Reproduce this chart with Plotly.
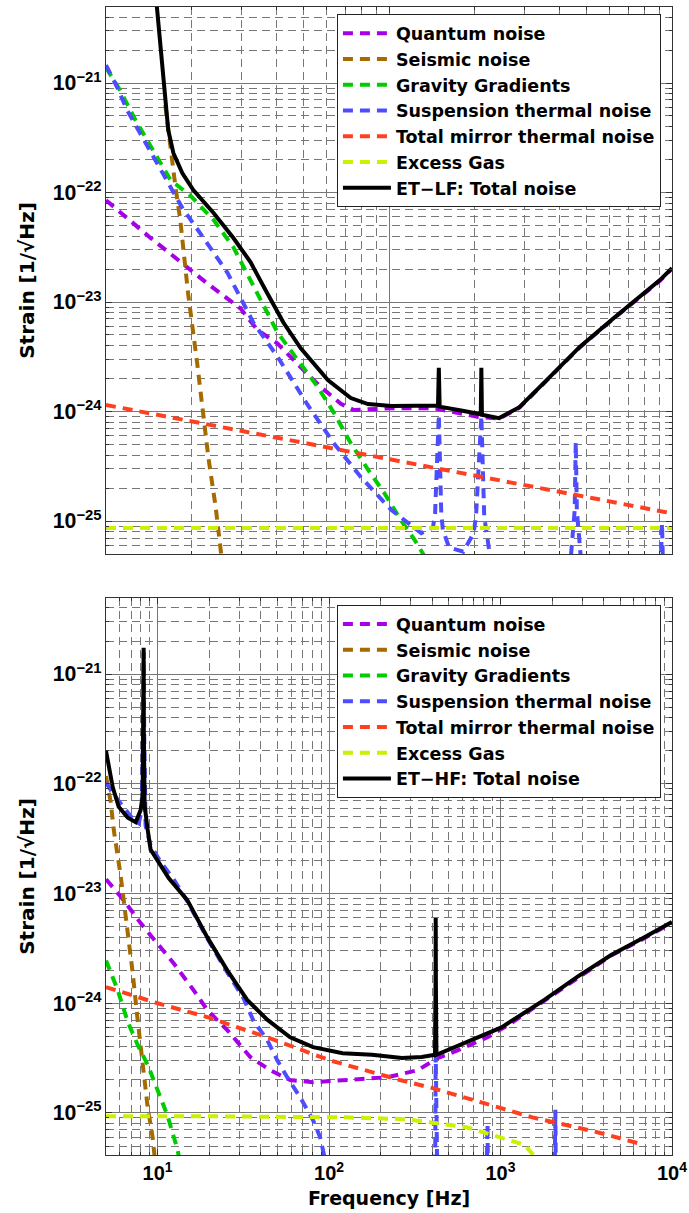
import numpy as np
import plotly.graph_objects as go

# ---------------- ET-LF (top panel) : frequency [Hz] and log10(strain) ----------------
lf_quantum_f = [1.0, 1.43, 2.28, 2.99, 3.43, 4.04, 4.87, 5.74, 6.76, 7.51, 10.2, 14.4, 20.7, 24.5,
                28.9, 36.0, 47.2, 62.3, 90.6, 100]
lf_quantum = [-22.07, -22.41, -22.83, -23.06, -23.256, -23.38, -23.594, -23.776, -23.93, -23.986,
              -23.97, -23.97, -24.05, -24.065, -23.965, -23.72, -23.415, -23.15, -22.805, -22.695]

lf_seismic_f = [1.62, 1.71, 1.76, 1.83, 1.88, 1.95, 2.10, 2.19, 2.30, 2.44, 2.54, 2.62]
lf_seismic = [-21.20, -21.73, -21.95, -22.25, -22.55, -22.92, -23.56, -23.96, -24.42,
              -24.87, -25.30, -25.55]

lf_gravity_f = [1.0, 1.12, 1.27, 1.43, 1.69, 1.99, 2.40, 2.82, 3.43, 4.04, 4.76, 5.60, 6.38, 7.33,
                8.43, 9.60, 11.0, 12.3, 13.2, 14.0]
lf_gravity = [-20.86, -21.064, -21.338, -21.566, -21.886, -22.03, -22.25, -22.50, -22.92, -23.28,
              -23.53, -23.776, -24.01, -24.29, -24.53, -24.74, -24.99, -25.17, -25.30, -25.42]

lf_susp_f = [1.0, 1.094, 1.187, 1.32, 1.49, 1.73, 1.86, 2.15, 2.69, 3.32, 4.04, 5.16, 6.38, 7.96,
             10.2, 13.0, 14.3, 14.55, 15.0, 15.3, 15.5, 16.3, 18.3, 19.9, 20.3, 21.2, 21.7, 22.6,
             23.5, 25.0, 43.0, 44.0, 45.3, 45.7, 46.1, 47.5, 48.5, 90.5, 91.5, 92.2, 92.9, 94.0, 100]
lf_susp = [-20.836, -21.037, -21.247, -21.457, -21.703, -22.00, -22.14, -22.37, -22.735, -23.19,
           -23.50, -23.94, -24.29, -24.60, -24.90, -25.11, -25.06, -24.93, -24.03, -24.93,
           -25.08, -25.24, -25.28, -25.11, -24.96, -24.04, -24.96, -25.27, -25.50, -25.70,
           -25.70, -25.30, -24.90, -24.28, -24.90, -25.30, -25.70, -25.70, -25.40, -25.02,
           -25.40, -25.70, -25.70]

lf_mirror_f = [1.0, 2.0, 5.0, 10.0, 20.0, 50.0, 100.0]
lf_mirror = [-23.94, -24.09, -24.285, -24.435, -24.58, -24.78, -24.93]

lf_gas_f = [1.0, 3.0, 10.0, 30.0, 100.0]
lf_gas = [-25.064, -25.064, -25.064, -25.064, -25.064]

lf_total_f = [1.50, 1.554, 1.58, 1.619, 1.659, 1.73, 1.86, 2.035, 2.40, 2.82, 3.24, 3.66, 4.24,
              4.87, 6.08, 7.33, 8.43, 10.2, 14.4, 14.9, 15.0, 15.1, 18.0, 20.8, 21.1, 21.2, 21.3,
              24.5, 28.9, 36.0, 47.2, 62.3, 90.6, 100]
lf_total = [-20.20, -20.653, -20.854, -21.155, -21.429, -21.639, -21.822, -21.977, -22.187,
            -22.416, -22.635, -22.89, -23.19, -23.42, -23.712, -23.877, -23.932, -23.95, -23.94,
            -23.945, -23.60, -23.955, -23.99, -24.02, -24.025, -23.60, -24.03, -24.06, -23.96,
            -23.715, -23.41, -23.146, -22.80, -22.69]

# ---------------- ET-HF (bottom panel) ----------------
hf_quantum_f = [5.0, 6.34, 7.96, 10.0, 12.4, 16.2, 19.5, 25.5, 34.7, 45.4, 59.3, 80.7, 124, 220,
                329, 430, 562, 840, 1158, 1803, 2805, 4420, 6870, 10000]
hf_quantum = [-22.87, -23.06, -23.27, -23.452, -23.635, -23.88, -24.063, -24.245, -24.49, -24.61,
              -24.70, -24.72, -24.70, -24.674, -24.61, -24.50, -24.43, -24.31, -24.18, -23.975,
              -23.765, -23.565, -23.41, -23.265]

hf_seismic_f = [5.0, 5.33, 5.55, 5.85, 6.09, 6.34, 6.70, 7.16, 7.65, 8.18, 8.75, 9.35, 9.61, 9.90]
hf_seismic = [-21.93, -22.17, -22.42, -22.64, -22.84, -23.06, -23.334, -23.726, -24.154, -24.58,
              -24.947, -25.22, -25.385, -25.6]

hf_gravity_f = [5.0, 5.85, 6.70, 7.65, 8.75, 10.0, 11.4, 13.1, 13.6]
hf_gravity = [-23.61, -23.88, -24.17, -24.38, -24.56, -24.79, -25.02, -25.34, -25.48]

hf_susp_f = [5.0, 5.55, 6.09, 6.70, 7.25, 7.76, 8.06, 8.22, 8.29, 8.36, 8.51, 9.10, 10.4, 12.4,
             14.9, 19.5, 25.5, 31.6, 36.1, 43.6, 49.9, 57.0, 67.8, 80.7, 88.7, 94.9, 100, 410,
             416, 419, 422, 428, 830, 836, 840, 844, 850, 2070, 2080, 2090, 2100, 2110, 10000]
hf_susp = [-21.99, -22.10, -22.18, -22.26, -22.33, -22.36, -22.25, -21.6, -20.80, -21.6,
           -22.38, -22.56, -22.71, -22.87, -23.07, -23.41, -23.72, -23.95, -24.154, -24.336,
           -24.52, -24.674, -24.856, -25.066, -25.22, -25.43, -25.6, -25.6, -25.45, -24.47,
           -25.45, -25.6, -25.6, -25.45, -25.10, -25.45, -25.6, -25.6, -25.45, -24.97,
           -25.45, -25.6, -25.6]

hf_mirror_f = [5.0, 10.0, 19.5, 43.6, 101, 259, 403, 634, 986, 1535, 2420, 3770, 6500]
hf_mirror = [-23.853, -24.0, -24.127, -24.31, -24.52, -24.70, -24.774, -24.865, -24.956, -25.04,
             -25.11, -25.18, -25.28]

hf_gas_f = [5.0, 20.0, 124, 284, 634, 986, 1380, 1700]
hf_gas = [-25.03, -25.03, -25.04, -25.057, -25.13, -25.22, -25.29, -25.45]

hf_total_f = [5.0, 5.47, 5.93, 6.70, 7.45, 7.96, 8.18, 8.27, 8.29, 8.31, 8.40, 8.75, 9.10, 10.0,
              11.6, 14.9, 19.5, 25.5, 33.3, 43.6, 59.3, 80.7, 120, 178, 266, 347, 415, 418, 419,
              420, 423, 540, 807, 1014, 1400, 1803, 2805, 4420, 6870, 10000]
hf_total = [-21.70, -22.03, -22.21, -22.31, -22.35, -22.24, -22.12, -21.5, -20.76, -21.5,
            -22.2, -22.42, -22.60, -22.70, -22.86, -23.06, -23.40, -23.70, -23.97, -24.15,
            -24.31, -24.40, -24.455, -24.47, -24.50, -24.49, -24.47, -23.8, -23.224, -23.8,
            -24.47, -24.40, -24.29, -24.22, -24.08, -23.97, -23.76, -23.56, -23.40, -23.26]

# tick labels for the frequency axis
x_tickvals = [10, 100, 1000, 10000]
x_ticktext = ["10<sup>1</sup>", "10<sup>2</sup>", "10<sup>3</sup>", "10<sup>4</sup>"]

names = ["Quantum noise", "Seismic noise", "Gravity Gradients", "Suspension thermal noise",
         "Total mirror thermal noise", "Excess Gas"]
colors = ["#A600E8", "#A36B00", "#00CC00", "#4D4DFF", "#FF4020", "#CCF000"]

lf_series = [(lf_quantum_f, lf_quantum), (lf_seismic_f, lf_seismic), (lf_gravity_f, lf_gravity),
             (lf_susp_f, lf_susp), (lf_mirror_f, lf_mirror), (lf_gas_f, lf_gas)]
hf_series = [(hf_quantum_f, hf_quantum), (hf_seismic_f, hf_seismic), (hf_gravity_f, hf_gravity),
             (hf_susp_f, hf_susp), (hf_mirror_f, hf_mirror), (hf_gas_f, hf_gas)]

TICKFONT = "Liberation Sans, Arial, Helvetica, sans-serif"
TEXTFONT = "DejaVu Sans, Liberation Sans, Arial, sans-serif"
DASH = "10px,7px"

fig = go.Figure()


def add_panel(series, total_f, total, total_name, xa, ya, leg):
    for (f, v), name, col in zip(series, names, colors):
        fig.add_trace(go.Scatter(x=f, y=np.power(10.0, np.array(v)), mode="lines", name=name,
                                 line=dict(color=col, width=4, dash=DASH),
                                 xaxis=xa, yaxis=ya, legend=leg))
    fig.add_trace(go.Scatter(x=total_f, y=np.power(10.0, np.array(total)), mode="lines",
                             name=total_name, line=dict(color="black", width=4),
                             xaxis=xa, yaxis=ya, legend=leg))


add_panel(lf_series, lf_total_f, lf_total, "ET\u2212LF: Total noise", "x", "y", "legend")
add_panel(hf_series, hf_total_f, hf_total, "ET\u2212HF: Total noise", "x2", "y2", "legend2")

W, H = 689, 1213
L, R, T, B = 106, 17, 7, 58
plot_h = H - T - B
top_dom = [(H - B - 554) / plot_h, 1.0]
bot_dom = [0.0, (H - B - 598) / plot_h]

grid_c = "#777777"


def axis(**kw):
    d = dict(
        type="log", automargin=False, showgrid=True, gridcolor=grid_c, gridwidth=1,
        minor=dict(dtick="D1", showgrid=True, gridcolor=grid_c, gridwidth=1, griddash="8px,5px",
                   ticks="inside", ticklen=3, tickcolor="#333"),
        ticks="inside", ticklen=6, tickcolor="#333", showline=True, linecolor="#333",
        linewidth=1, mirror="allticks", zeroline=False, layer="above traces",
        exponentformat="power",
        tickfont=dict(family=TICKFONT, size=17, color="black", weight="bold"),
    )
    d.update(kw)
    return d


def ytitle():
    return dict(text="Strain [1/\u221aHz]",
                font=dict(family=TEXTFONT, size=20, color="black", weight="bold"), standoff=12)


def legend(x, y):
    return dict(x=x, y=y, xanchor="left", yanchor="top", bgcolor="white",
                bordercolor="#222", borderwidth=1, tracegroupgap=0, itemwidth=48,
                font=dict(family=TEXTFONT, size=17.5, color="black", weight="bold"))


fig.update_layout(
    template="plotly_white",
    width=W, height=H, margin=dict(l=L, r=R, t=T, b=B, autoexpand=False),
    paper_bgcolor="white", plot_bgcolor="white", showlegend=True,
    xaxis=axis(range=[0, 2], domain=[0, 1], anchor="y", dtick=1, showticklabels=False),
    yaxis=axis(range=[-25.301, -20.306], domain=top_dom, anchor="x", dtick=1, title=ytitle()),
    xaxis2=axis(range=[np.log10(5), 4.0005], domain=[0, 1], anchor="y2", tickvals=x_tickvals,
                ticktext=x_ticktext, ticklabeloverflow="allow",
                tickfont=dict(family=TICKFONT, size=20, color="black", weight="bold")),
    yaxis2=axis(range=[-25.383, -20.307], domain=bot_dom, anchor="x2", dtick=1, title=ytitle()),
    legend=legend(0.408, 0.9935),
    legend2=legend(0.408, 0.479),
    annotations=[dict(text="Frequency [Hz]", xref="paper", yref="paper", x=0.5, y=-0.0375,
                      xanchor="center", yanchor="middle", showarrow=False,
                      font=dict(family=TEXTFONT, size=19, color="black", weight="bold"))],
)

# the page body has a default 8px margin; remove it so the figure sits at the window origin
fig.write_html("out.html", config={"displayModeBar": False},
               post_script="document.body.style.margin='0px';document.body.style.padding='0px';")
